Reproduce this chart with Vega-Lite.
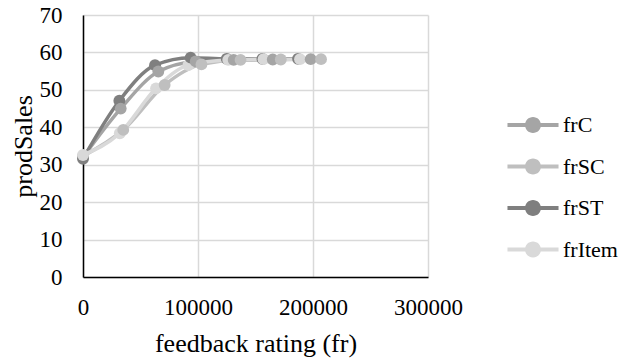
{
  "$schema": "https://vega.github.io/schema/vega-lite/v6.json",
  "width": 345,
  "height": 262,
  "autosize": {"type": "none"},
  "padding": {"left": 83, "top": 15, "right": 196, "bottom": 83},
  "background": "white",
  "config": {
    "font": "Liberation Serif",
    "view": {"stroke": null}
  },
  "data": {
    "values": [
      {"series": "frC", "fr": 0, "sales": 32.0},
      {"series": "frC", "fr": 32800, "sales": 45.0},
      {"series": "frC", "fr": 65500, "sales": 54.9},
      {"series": "frC", "fr": 98000, "sales": 57.6},
      {"series": "frC", "fr": 131000, "sales": 58.0},
      {"series": "frC", "fr": 165000, "sales": 58.1},
      {"series": "frC", "fr": 198000, "sales": 58.2},
      {"series": "frSC", "fr": 0, "sales": 32.3},
      {"series": "frSC", "fr": 35000, "sales": 39.3},
      {"series": "frSC", "fr": 71000, "sales": 51.3},
      {"series": "frSC", "fr": 103000, "sales": 56.8},
      {"series": "frSC", "fr": 137000, "sales": 58.0},
      {"series": "frSC", "fr": 172000, "sales": 58.1},
      {"series": "frSC", "fr": 207000, "sales": 58.2},
      {"series": "frST", "fr": 0, "sales": 31.6},
      {"series": "frST", "fr": 31600, "sales": 47.1},
      {"series": "frST", "fr": 62600, "sales": 56.6},
      {"series": "frST", "fr": 93600, "sales": 58.6},
      {"series": "frST", "fr": 125000, "sales": 58.3},
      {"series": "frST", "fr": 156000, "sales": 58.3},
      {"series": "frST", "fr": 187000, "sales": 58.3},
      {"series": "frItem", "fr": 0, "sales": 32.6},
      {"series": "frItem", "fr": 32000, "sales": 38.4},
      {"series": "frItem", "fr": 63500, "sales": 50.4},
      {"series": "frItem", "fr": 91600, "sales": 56.6},
      {"series": "frItem", "fr": 126300, "sales": 58.0},
      {"series": "frItem", "fr": 157000, "sales": 58.2},
      {"series": "frItem", "fr": 188700, "sales": 58.2}
    ]
  },
  "mark": {
    "type": "line",
    "interpolate": "monotone",
    "strokeWidth": 3.5,
    "point": {"filled": true, "size": 140, "opacity": 1}
  },
  "encoding": {
    "x": {
      "field": "fr",
      "type": "quantitative",
      "scale": {"domain": [0, 300000], "nice": false},
      "axis": {
        "values": [0, 100000, 200000, 300000],
        "format": "d",
        "title": "feedback rating (fr)",
        "titleFont": "Liberation Serif",
        "titleFontSize": 26,
        "titleFontWeight": "normal",
        "titleColor": "#000000",
        "titlePadding": 11,
        "labelFont": "Liberation Serif",
        "labelFontSize": 23,
        "labelColor": "#000000",
        "labelPadding": 19,
        "ticks": false,
        "domainColor": "#000000",
        "domainWidth": 1.5,
        "gridColor": "#d9d9d9",
        "gridWidth": 1.5,
        "labelFlush": false
      }
    },
    "y": {
      "field": "sales",
      "type": "quantitative",
      "scale": {"domain": [0, 70], "nice": false, "zero": true},
      "axis": {
        "values": [0, 10, 20, 30, 40, 50, 60, 70],
        "title": "prodSales",
        "titleFont": "Liberation Serif",
        "titleFontSize": 26,
        "titleFontWeight": "normal",
        "titleColor": "#000000",
        "titlePadding": 3,
        "labelFont": "Liberation Serif",
        "labelFontSize": 23,
        "labelColor": "#000000",
        "labelPadding": 21,
        "ticks": false,
        "domainColor": "#000000",
        "domainWidth": 1.5,
        "gridColor": "#d9d9d9",
        "gridWidth": 1.5,
        "labelFlush": false
      }
    },
    "color": {
      "field": "series",
      "type": "nominal",
      "sort": ["frC", "frSC", "frST", "frItem"],
      "scale": {
        "domain": ["frC", "frSC", "frST", "frItem"],
        "range": ["#a5a5a5", "#bfbfbf", "#7f7f7f", "#d9d9d9"]
      },
      "legend": {
        "title": null,
        "orient": "none",
        "legendX": 439,
        "legendY": 99,
        "padding": 0,
        "symbolType": "M-3.19,-0.25 H3.19 V0.25 H-3.19 Z M1,0 A1,1 0 1,1 -1,0 A1,1 0 1,1 1,0 Z",
        "symbolSize": 256,
        "symbolStrokeWidth": 0,
        "symbolOpacity": 1,
        "labelFont": "Liberation Serif",
        "labelFontSize": 22,
        "labelColor": "#000000",
        "labelOffset": 19,
        "rowPadding": 19.5
      }
    },
    "order": {"field": "fr", "type": "quantitative"}
  }
}
